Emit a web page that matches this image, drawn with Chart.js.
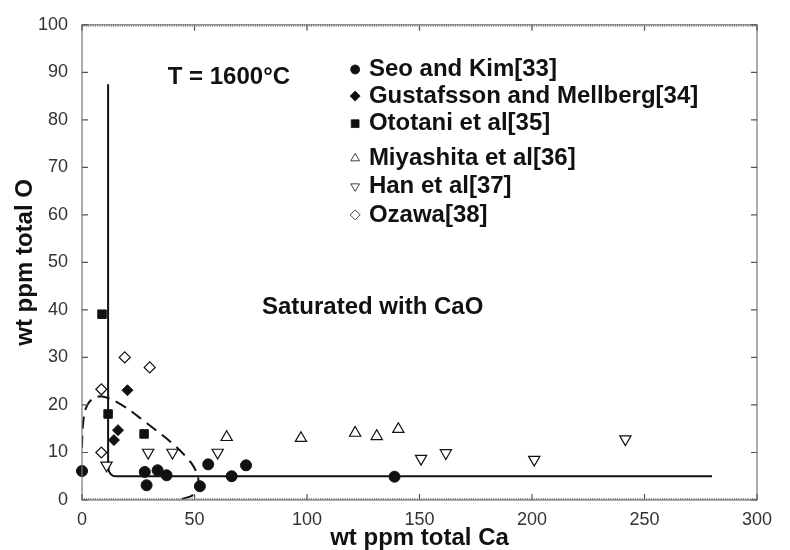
<!DOCTYPE html>
<html>
<head>
<meta charset="utf-8">
<script src="https://cdn.jsdelivr.net/npm/chart.js@4.4.1/dist/chart.umd.min.js"></script>
<style>
  html, body { margin: 0; padding: 0; background: #fff; }
  #wrap { width: 790px; height: 550px; }
</style>
</head>
<body>
<div id="wrap"><canvas id="chart" width="790" height="550"></canvas></div>
<script>
// measured points, wt ppm Ca / wt ppm O
const seoCa = [0, 27.9, 28.7, 33.6, 37.6, 52.4, 56.1, 66.5, 72.9, 138.9];
const seoO  = [6.1, 5.9, 3.1, 6.25, 5.2, 2.9, 7.5, 5, 7.3, 4.9];

const gusCa = [20.2, 16, 14.2];
const gusO  = [23.1, 14.7, 12.6];

const otoCa = [8.9, 11.6, 27.6];
const otoO  = [39.1, 18.1, 13.9];

const miyCa = [64.3, 97.3, 121.4, 131, 140.6];
const miyO  = [13.2, 13, 14.1, 13.4, 14.9];

const hanCa = [10.9, 29.4, 40.2, 60.3, 150.7, 161.7, 201, 241.5];
const hanO  = [7.3, 10, 10, 10, 8.7, 9.9, 8.5, 12.8];

const ozaCa = [19, 30.1, 8.6, 8.6];
const ozaO  = [30, 27.9, 23.3, 10];

// CaO saturation boundary (solid)
const satCa = [11.6, 11.6, 12, 12.8, 14, 15.5, 280];
const satO  = [87.5, 7.2, 6, 5.4, 5.05, 5, 5];

// dashed curve
const dashCa = [0, 0.3, 1.2, 3, 6, 9, 14, 20, 26, 32, 38, 44, 49, 51.5, 51.6, 50.5, 48, 42];
const dashO  = [11, 15, 18.5, 20.5, 21.6, 21.8, 21, 19.3, 17.2, 15, 12.8, 10.2, 7.5, 5, 3, 1.6, 0.7, 0];

const xTicks = [0, 50, 100, 150, 200, 250, 300];
const yTicks = [0, 10, 20, 30, 40, 50, 60, 70, 80, 90, 100];

const legendItems = [
  { text: 'Seo and Kim[33]', style: 'circle', fill: true, r: 4.5, rot: 0 },
  { text: 'Gustafsson and Mellberg[34]', style: 'rectRot', fill: true, r: 5, rot: 0 },
  { text: 'Ototani et al[35]', style: 'rect', fill: true, r: 5.5, rot: 0 },
  { text: 'Miyashita et al[36]', style: 'triangle', fill: false, r: 5, rot: 0 },
  { text: 'Han et al[37]', style: 'triangle', fill: false, r: 5, rot: 180 },
  { text: 'Ozawa[38]', style: 'rectRot', fill: false, r: 5, rot: 0 }
];
const legendRowsO = [90.6, 85, 79.2, 71.9, 66, 60];

function pts(xs, ys) {
  return xs.map((x, i) => ({ x: x, y: ys[i] }));
}

const INK = '#111';

function markerSet(label, xs, ys, style, fill, r, rot) {
  return {
    label: label,
    data: pts(xs, ys),
    pointStyle: style,
    pointRadius: r,
    pointRotation: rot || 0,
    pointBackgroundColor: fill ? INK : '#fff',
    pointBorderColor: INK,
    pointBorderWidth: fill ? 1 : 1.2,
    showLine: false,
    clip: false
  };
}

const extras = {
  id: 'extras',
  afterDraw(chart) {
    const ctx = chart.ctx;
    const a = chart.chartArea;
    const xs = chart.scales.x, ys = chart.scales.y;
    ctx.save();

    // frame
    ctx.strokeStyle = '#777';
    ctx.lineWidth = 1.2;
    ctx.strokeRect(a.left, a.top, a.right - a.left, a.bottom - a.top);

    // inward ticks
    ctx.strokeStyle = '#555';
    ctx.lineWidth = 1.2;
    ctx.beginPath();
    xTicks.forEach(v => {
      const px = xs.getPixelForValue(v);
      ctx.moveTo(px, a.bottom); ctx.lineTo(px, a.bottom - 6);
      ctx.moveTo(px, a.top); ctx.lineTo(px, a.top + 6);
    });
    yTicks.forEach(v => {
      const py = ys.getPixelForValue(v);
      ctx.moveTo(a.left, py); ctx.lineTo(a.left + 6, py);
      ctx.moveTo(a.right, py); ctx.lineTo(a.right - 6, py);
    });
    ctx.stroke();

    // minor ticks along x
    ctx.lineWidth = 0.8;
    ctx.strokeStyle = '#666';
    ctx.beginPath();
    for (let v = 1; v < 300; v++) {
      const px = xs.getPixelForValue(v);
      ctx.moveTo(px, a.bottom); ctx.lineTo(px, a.bottom - 2);
      ctx.moveTo(px, a.top); ctx.lineTo(px, a.top + 2);
    }
    ctx.stroke();

    // text annotations
    ctx.fillStyle = INK;
    ctx.textBaseline = 'middle';
    ctx.textAlign = 'left';
    ctx.font = 'bold 24px "Liberation Sans", Arial, sans-serif';
    ctx.fillText('T = 1600\u00B0C', xs.getPixelForValue(38.1), ys.getPixelForValue(89));
    ctx.fillText('Saturated with CaO', xs.getPixelForValue(80), ys.getPixelForValue(40.6));

    // legend
    const mx = xs.getPixelForValue(121.4);
    const tx = xs.getPixelForValue(127.5);
    legendItems.forEach((it, i) => {
      const py = ys.getPixelForValue(legendRowsO[i]);
      ctx.fillStyle = it.fill ? INK : '#fff';
      ctx.strokeStyle = INK;
      Chart.helpers.drawPoint(ctx, {
        pointStyle: it.style, radius: it.r, rotation: it.rot, borderWidth: 1
      }, mx, py);
      ctx.fillStyle = INK;
      ctx.fillText(it.text, tx, py);
    });
    ctx.restore();
  }
};

new Chart(document.getElementById('chart'), {
  type: 'scatter',
  data: {
    datasets: [
      markerSet('Seo and Kim[33]', seoCa, seoO, 'circle', true, 5.5),
      markerSet('Gustafsson and Mellberg[34]', gusCa, gusO, 'rectRot', true, 5.5),
      markerSet('Ototani et al[35]', otoCa, otoO, 'rect', true, 6),
      markerSet('Miyashita et al[36]', miyCa, miyO, 'triangle', false, 6.5),
      markerSet('Han et al[37]', hanCa, hanO, 'triangle', false, 6.5, 180),
      markerSet('Ozawa[38]', ozaCa, ozaO, 'rectRot', false, 5.5),
      {
        label: 'saturation',
        data: pts(satCa, satO),
        showLine: true,
        borderColor: INK,
        borderWidth: 2,
        pointRadius: 0,
        tension: 0
      },
      {
        label: 'dashed',
        data: pts(dashCa, dashO),
        showLine: true,
        borderColor: INK,
        borderWidth: 2,
        borderDash: [12, 7],
        pointRadius: 0,
        tension: 0.3
      }
    ]
  },
  options: {
    responsive: false,
    animation: false,
    layout: { padding: { top: 20, right: 33, bottom: 0, left: 0 } },
    plugins: {
      legend: { display: false },
      tooltip: { enabled: false }
    },
    scales: {
      x: {
        type: 'linear',
        min: 0, max: 300,
        afterFit(s) { s.height = 50; },
        afterBuildTicks(s) { s.ticks = xTicks.map(v => ({ value: v })); },
        grid: { display: false, drawTicks: false },
        border: { display: false },
        ticks: {
          padding: 9,
          color: '#333',
          font: { family: '"Liberation Sans", Arial, sans-serif', size: 18 }
        },
        title: {
          display: true,
          text: 'wt ppm total Ca',
          color: INK,
          padding: { top: 0, bottom: 0 },
          font: { family: '"Liberation Sans", Arial, sans-serif', size: 24, weight: 'bold', lineHeight: 1 }
        }
      },
      y: {
        type: 'linear',
        min: 0, max: 100,
        afterFit(s) { s.width = 82; },
        afterBuildTicks(s) { s.ticks = yTicks.map(v => ({ value: v })); },
        grid: { display: false, drawTicks: false },
        border: { display: false },
        ticks: {
          padding: 14,
          color: '#333',
          font: { family: '"Liberation Sans", Arial, sans-serif', size: 18 }
        },
        title: {
          display: true,
          text: 'wt ppm total O',
          color: INK,
          padding: { top: 13, bottom: 0 },
          font: { family: '"Liberation Sans", Arial, sans-serif', size: 24, weight: 'bold', lineHeight: 1 }
        }
      }
    }
  },
  plugins: [extras]
});
</script>
</body>
</html>
